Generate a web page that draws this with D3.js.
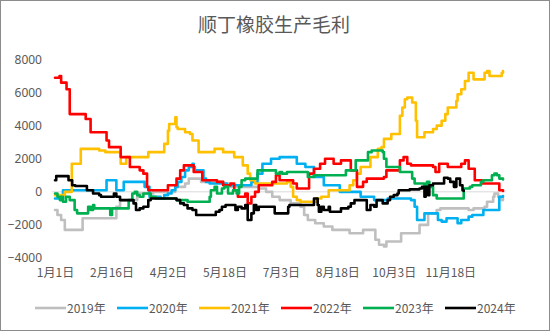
<!DOCTYPE html>
<html>
<head>
<meta charset="utf-8">
<script src="https://cdn.jsdelivr.net/npm/d3@7"></script>
<style>
  html, body { margin: 0; padding: 0; background: #fff; }
  svg { display: block; }
  text { font-family: "Microsoft YaHei", "Noto Sans CJK SC", sans-serif; fill: #595959; }
</style>
</head>
<body>
<svg id="chart" width="550" height="331"></svg>
<script>
// Chart title
const title = "顺丁橡胶生产毛利";

// Series names and line colours
const seriesNames = ["2019年", "2020年", "2021年", "2022年", "2023年", "2024年"];
const seriesColors = ["#bfbfbf", "#00b0f0", "#ffc000", "#ff0000", "#00b050", "#000000"];

// Category axis: day of year and its labels
const xTickDays = [0, 46, 92, 138, 184, 230, 276, 322];
const xTickLabels = ["1月1日", "2月16日", "4月2日", "5月18日", "7月3日", "8月18日", "10月3日", "11月18日"];
const yTicks = [-4000, -2000, 0, 2000, 4000, 6000, 8000];

// Gross margin (元/吨) by day of year: [day, value], held until the next change
const s2019 = [[0,-1100],[2,-1400],[5,-1700],[8,-2300],[22.5,-1600],[50,-900],[53,-500],[67,-100],[80,0],[98,300],[106,500],[109,800],[119,600],[137,500],[143,300],[166,200],[172,0],[177,-300],[183,-500],[192,-700],[200,-900],[203,-1400],[206,-1700],[212,-1900],[219,-2100],[226,-2300],[240,-2500],[251,-2300],[261,-2900],[264,-3200],[268,-3300],[270,-3000],[282,-2500],[297,-2000],[304,-1300],[311,-1100],[314,-1000],[337,-1100],[341,-1000],[350,-900],[352,-600],[357,-300],[358,-100],[361,-300],[364,-500],[365,-400]];

const s2020 = [[0,-400],[6.5,100],[42,700],[50,100],[56,600],[73,300],[77,-300],[86,-400],[89,-200],[92,-100],[95,100],[98,300],[100,600],[103,900],[106,1300],[109,1500],[112,1700],[113,1500],[114,1300],[121,800],[123,600],[126,500],[140,400],[160,600],[165,1100],[169,1700],[176,2000],[183,2100],[197,1700],[204,1500],[211,900],[219,400],[232,0],[249,-300],[260,-500],[271,-400],[290,-500],[293,-900],[295,-1700],[301,-1300],[312,-1700],[315,-1800],[319,-1600],[328,-1900],[331,-1700],[337,-1500],[340,-1400],[349,-1100],[362,-300],[365,-250]];

const s2021 = [[0,-200],[8,0],[13.7,1700],[21,2600],[36,2500],[41,2400],[53.5,1700],[58,2100],[76,2400],[89,2900],[92,3700],[93,4100],[98,4500],[99,3900],[100,3800],[106,3600],[110,3500],[112,3100],[117,2400],[130,2600],[137,2400],[146,2100],[153,1600],[157,1100],[159,700],[163,500],[189,600],[192,300],[194,-300],[197,-500],[200,-600],[213,-400],[217,-300],[223,100],[240,400],[243,700],[246,1100],[249,1500],[257,2100],[263,2600],[266,2700],[268,3200],[274,3500],[281,4600],[283,5100],[285,5600],[287,5700],[291,5400],[294,4300],[295,3300],[301,3600],[308,3800],[311,4000],[315,4300],[318,4700],[320,5100],[327,5500],[328,5900],[331,6200],[334,6700],[337,7200],[341,6800],[350,7200],[352,7300],[354,7000],[364,7200],[365,7300]];

const s2022 = [[0,6900],[3.7,7000],[5,6600],[9.4,6200],[12,4700],[22,4700],[25,4400],[29,3600],[41,3600],[42,3100],[44,2700],[52,2700],[53.5,2100],[61,1500],[66,1500],[69,1300],[72,1100],[75,300],[76,100],[89,100],[92,400],[99,800],[102,1300],[105,1600],[110,1600],[113,1200],[120,700],[132,600],[137,400],[143,500],[146,100],[149,-300],[155,-100],[157,-700],[160,-300],[163,0],[166,400],[177,600],[180,1000],[183,700],[194,500],[197,200],[206,200],[207,1100],[211,1400],[216,1700],[220,2000],[226,2000],[227,1700],[233,1900],[240,1900],[241,1300],[246,300],[251,600],[254,800],[268,900],[270,1300],[278,1300],[281,1900],[284,2100],[287,1700],[290,1600],[308,1500],[310,1200],[313,1700],[320,1500],[331,1700],[334,1900],[337,1400],[342,700],[348,500],[362,100],[365,50]];

const s2023 = [[0,-100],[2,-300],[4,-500],[5,-300],[6.5,-600],[9,-300],[12,-500],[16,-1100],[18,-1300],[27,-900],[29,-1100],[31,-800],[32,-1000],[45,-1400],[46.5,-1000],[58,-1000],[60,-500],[63,-100],[65,0],[67,-200],[69,-300],[72,-100],[78,-300],[82,-400],[99,-500],[108,-600],[126,-300],[127,100],[130,300],[132,-100],[136,200],[138,300],[141,-100],[145,100],[148,-100],[150,300],[152,700],[155,800],[165,1300],[178,1300],[180,1100],[183,1200],[185,1100],[189,1200],[203,1200],[206,900],[211,1000],[237,1300],[245,1900],[255,2400],[258,2500],[267,2400],[268,2000],[270,1500],[281,1200],[290,1200],[291,800],[293,500],[301,400],[303,600],[305,300],[308,-200],[311,-400],[331,-400],[333,200],[338,300],[340,400],[347,600],[349,700],[356,1000],[358,1100],[360,1000],[362,800],[365,750]];

const s2024 = [[0,700],[1,950],[9.4,950],[11,700],[14,400],[16.5,350],[26,100],[31,-100],[36,-200],[37.5,-300],[46,-300],[48,-100],[50,-300],[53,-500],[64,-700],[66,-1100],[69,-1000],[72,-900],[76,-500],[78,-400],[99,-500],[102,-700],[105,-800],[108,-1000],[112,-1100],[115,-1400],[131,-1200],[134,-1100],[136,-900],[139,-800],[147,-1100],[149,-900],[152,-1000],[155,-800],[157,-1700],[160,-1300],[162,-800],[164,-1100],[166,-900],[179,-1300],[190,-900],[191,-800],[211,-400],[214,-800],[215,-1200],[217,-900],[219,-1100],[223,-900],[224,-1200],[233,-1000],[239,-900],[241,-700],[244,-500],[252,-500],[254,-1100],[257,-800],[260,-900],[262,-500],[267,-700],[271,-500],[273,-300],[276,-200],[279,-100],[280,100],[285,100],[289,150],[297,200],[299,300],[301,-300],[302,300],[304,-200],[305,400],[308,500],[314,500],[317,850],[320,800],[322,600],[324,600],[325,300],[327,800],[329,800],[330,400],[332,100],[333,50]];

const seriesData = [s2019, s2020, s2021, s2022, s2023, s2024];

const svg = d3.select("#chart");
const W = 550, H = 331;

// Outer chart border
svg.append("rect")
  .attr("x", 0.5).attr("y", 0.5)
  .attr("width", W - 1).attr("height", H - 1)
  .attr("fill", "#fff").attr("stroke", "#8c8c8c").attr("stroke-width", 1);

// Title
svg.append("text")
  .attr("x", 274).attr("y", 32)
  .attr("text-anchor", "middle")
  .attr("font-size", 19)
  .text(title);

// Scales
const x = d3.scaleLinear().domain([0, 365]).range([55, 503]);
const y = d3.scaleLinear().domain([-4000, 8000]).range([258, 59.5]);

// Value axis labels (no axis line, no gridlines)
const yAxis = d3.axisLeft(y).tickValues(yTicks).tickSize(0).tickPadding(0).tickFormat(d3.format("d"));
const yG = svg.append("g").attr("transform", "translate(42,0)").call(yAxis);
yG.select(".domain").remove();
yG.selectAll("text").attr("font-size", 12).attr("fill", "#595959")
  .style("font-family", "\"Noto Sans\", \"Noto Sans CJK SC\", sans-serif");

// Horizontal axis line crossing at zero
svg.append("line")
  .attr("x1", 52).attr("x2", 506)
  .attr("y1", y(0)).attr("y2", y(0))
  .attr("stroke", "#d9d9d9").attr("stroke-width", 1);

// Category labels along the bottom
const xAxis = d3.axisBottom(x).tickValues(xTickDays).tickSize(0).tickPadding(0)
  .tickFormat((d, i) => xTickLabels[i]);
const xG = svg.append("g").attr("transform", "translate(0,268)").call(xAxis);
xG.select(".domain").remove();
xG.selectAll("text").attr("font-size", 12).attr("fill", "#595959");

// Series lines
const line = d3.line()
  .x(d => x(d[0]))
  .y(d => y(d[1]))
  .curve(d3.curveStepAfter);

svg.append("g").selectAll("path")
  .data(seriesData)
  .join("path")
  .attr("d", line)
  .attr("fill", "none")
  .attr("stroke", (d, i) => seriesColors[i])
  .attr("stroke-width", 2.6)
  .attr("stroke-linejoin", "round")
  .attr("stroke-linecap", "round");

// Legend
const legend = svg.append("g").attr("transform", "translate(35,308)");
const item = legend.selectAll("g")
  .data(seriesNames)
  .join("g")
  .attr("transform", (d, i) => `translate(${i * 82},0)`);
item.append("line")
  .attr("x1", 0).attr("x2", 31)
  .attr("y1", 0).attr("y2", 0)
  .attr("stroke", (d, i) => seriesColors[i])
  .attr("stroke-width", 2.6);
item.append("text")
  .attr("x", 32).attr("y", 4.5)
  .attr("font-size", 12)
  .text(d => d);
</script>
</body>
</html>
